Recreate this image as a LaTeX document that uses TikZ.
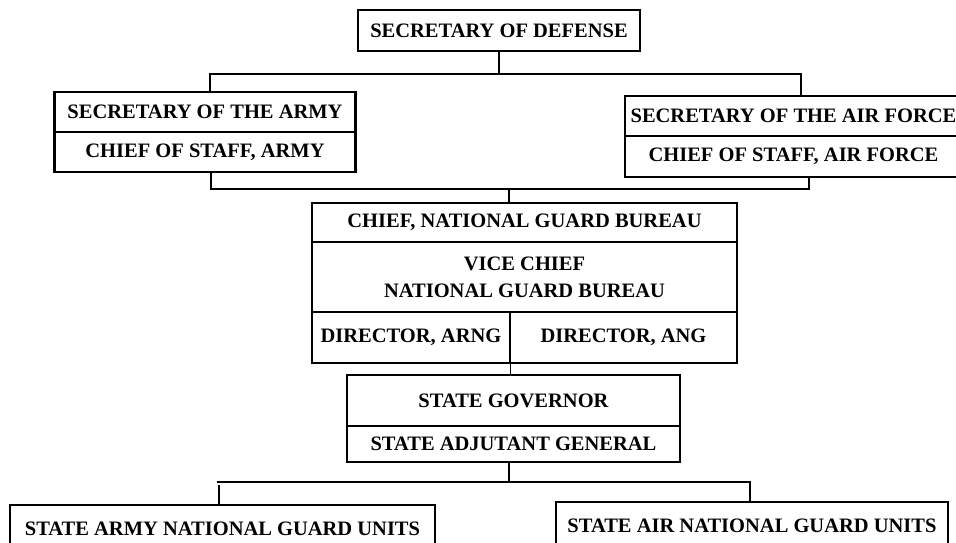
\documentclass[tikz,border=0pt]{standalone}
\usepackage{fontspec}
\setmainfont{Liberation Serif}
\usepackage{tikz}
\usetikzlibrary{positioning,calc}

\begin{document}
\begin{tikzpicture}[x=1pt, y=-1pt,
  post/.style={draw, line width=2.5pt, outer sep=0pt, inner sep=0pt, align=center, font=\fontsize{20.5}{27}\selectfont\bfseries},
  bus/.style={line width=2.6pt},
  feed/.style={line width=0.8pt}
]
\useasboundingbox (0,0) rectangle (956,543);

\node[post, minimum width=282pt, minimum height=41pt] (secdef) at (499,30.5) {SECRETARY OF DEFENSE};

\node[post, minimum width=301pt, minimum height=40pt] (armysec) at (205,112) {SECRETARY OF THE ARMY};
\node[post, minimum width=301pt, minimum height=40pt, below=0pt of armysec] (armycos) {CHIEF OF STAFF, ARMY};
\node[post, minimum width=337pt, minimum height=40pt] (airsec) at (793.5,116) {SECRETARY OF THE AIR FORCE};
\node[post, minimum width=337pt, minimum height=41pt, below=0pt of airsec] (aircos) {CHIEF OF STAFF, AIR FORCE};

\node[post, minimum width=425pt, minimum height=39pt] (ngbchief) at (524.5,222.5) {CHIEF, NATIONAL GUARD BUREAU};
\node[post, minimum width=425pt, minimum height=70pt, below=0pt of ngbchief] (ngbvice) {VICE CHIEF\\NATIONAL GUARD BUREAU};
\node[post, minimum width=198pt, minimum height=51pt, anchor=north west] (arng) at (ngbvice.south west) {DIRECTOR, ARNG};
\node[post, minimum width=227pt, minimum height=51pt, anchor=north east] (ang) at (ngbvice.south east) {DIRECTOR, ANG};

\node[post, minimum width=333pt, minimum height=51pt] (gov) at (513.5,400.5) {STATE GOVERNOR};
\node[post, minimum width=333pt, minimum height=36pt, below=0pt of gov] (tag) {STATE ADJUTANT GENERAL};

\node[post, minimum width=425pt, minimum height=48pt] (armyunits) at (222.5,529) {STATE ARMY NATIONAL GUARD UNITS};
\node[post, minimum width=392pt, minimum height=48pt] (airunits) at (752,526) {STATE AIR NATIONAL GUARD UNITS};

% secretary level
\draw[bus] (secdef.south) -- ++(0,23) coordinate (topbus);
\draw[bus] ([xshift=5pt]armysec.north) |- (topbus) -| ([xshift=7.5pt]airsec.north);

% chiefs of staff to the bureau
\coordinate (midbus) at (509,189);
\draw[bus] ([xshift=6pt]armycos.south) |- (midbus) -| ([xshift=15.5pt]aircos.south);
\draw[bus] (midbus) -- ([xshift=-15.5pt]ngbchief.north);

% bureau to state
\draw[feed] (arng.south east) -- (gov.north -| arng.south east);

% state to units
\draw[bus] ([xshift=-4.5pt]tag.south) -- ++(0,20) coordinate (lowbus);
\coordinate (lowleft) at (217,482);
\draw[bus] (lowleft) -| ([xshift=-2pt]airunits.north);
\draw[bus] ([xshift=-3.5pt]armyunits.north) -- ++(0,-20);

\end{tikzpicture}
\end{document}
